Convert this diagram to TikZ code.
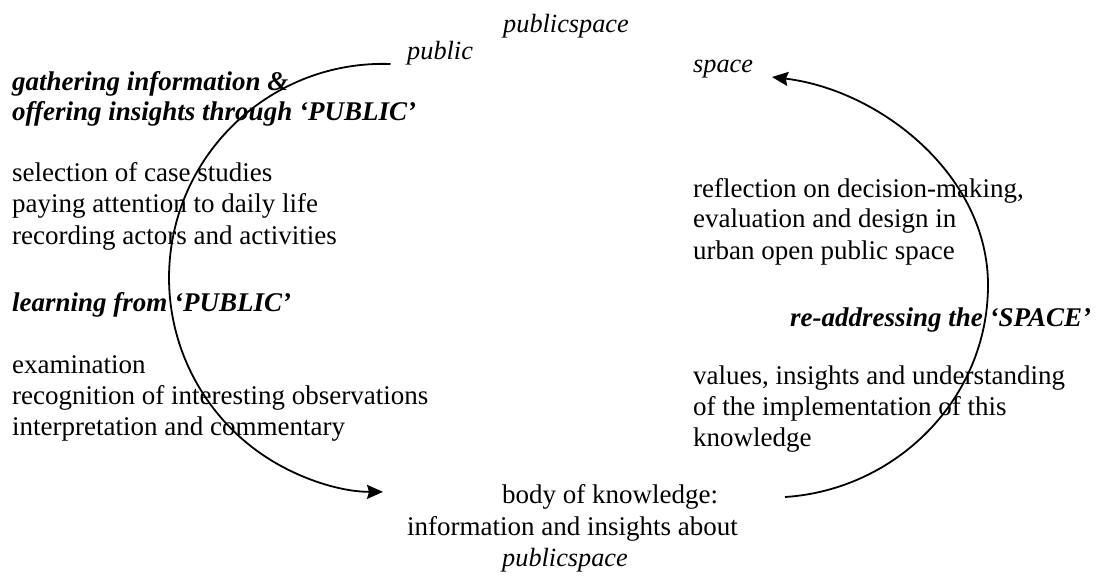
\documentclass[tikz,border=0pt]{standalone}
\usepackage{fontspec}
\setmainfont{Liberation Serif}
\usetikzlibrary{arrows.meta,positioning}

\begin{document}
\begin{tikzpicture}[x=1pt,y=1pt,
    txt/.style={anchor=base west,inner sep=0pt,font=\fontsize{27}{31}\selectfont},
    head/.style={txt,font=\fontsize{27}{31}\selectfont\bfseries\itshape},
    lbl/.style={txt,font=\fontsize{26.3}{31}\selectfont\itshape},
    cyc/.style={-{Stealth[length=16pt,width=14pt,inset=2pt]},line width=1.8pt}]
  \useasboundingbox (0,0) rectangle (1108,-580);

  % words round the cycle
  \node[lbl](ps) at (503,-33){publicspace};
  \node[lbl](pub) at (407,-60){public};
  \node[lbl](spc) at (693,-73){space};

  % left side: public
  \node[head](g1) at (12,-91){gathering information \&};
  \node[head](g2) at ([yshift=-30pt]g1.base west){offering insights through ‘PUBLIC’};
  \node[txt](s1) at (12,-182){selection of case studies};
  \node[txt](s2) at ([yshift=-31pt]s1.base west){paying attention to daily life};
  \node[txt](s3) at ([yshift=-31pt]s2.base west){recording actors and activities};
  \node[head](lf) at (12,-311){learning from ‘PUBLIC’};
  \node[txt](e1) at (12,-373){examination};
  \node[txt](e2) at ([yshift=-31pt]e1.base west){recognition of interesting observations};
  \node[txt](e3) at ([yshift=-31pt]e2.base west){interpretation and commentary};

  % right side: space
  \node[txt](r1) at (693,-198){reflection on decision-making,};
  \node[txt](r2) at ([yshift=-30pt]r1.base west){evaluation and design in};
  \node[txt](r3) at ([yshift=-31pt]r2.base west){urban open public space};
  \node[head](ra) at (790,-326){re-addressing the ‘SPACE’};
  \node[txt](v1) at (693,-384){values, insights and understanding};
  \node[txt](v2) at ([yshift=-31pt]v1.base west){of the implementation of this};
  \node[txt](v3) at ([yshift=-31pt]v2.base west){knowledge};

  % bottom: body of knowledge
  \node[txt](b1) at (502,-503){body of knowledge:};
  \node[txt](b2) at (407,-535){information and insights about};
  \node[lbl](b3) at (502,-566){publicspace};

  % the two halves of the cycle
  \coordinate (lstart) at (390.5,-64);
  \coordinate (rstart) at (785,-497);
  \coordinate (rmid) at (988,-285);
  \coordinate (rend) at (772,-77);
  \draw[cyc](lstart) arc[start angle=88,end angle=270,radius=214];
  \draw[cyc](rstart) .. controls (895,-490) and (988,-400) .. (rmid)
    .. controls (988,-175) and (880,-90) .. (rend);
\end{tikzpicture}
\end{document}
